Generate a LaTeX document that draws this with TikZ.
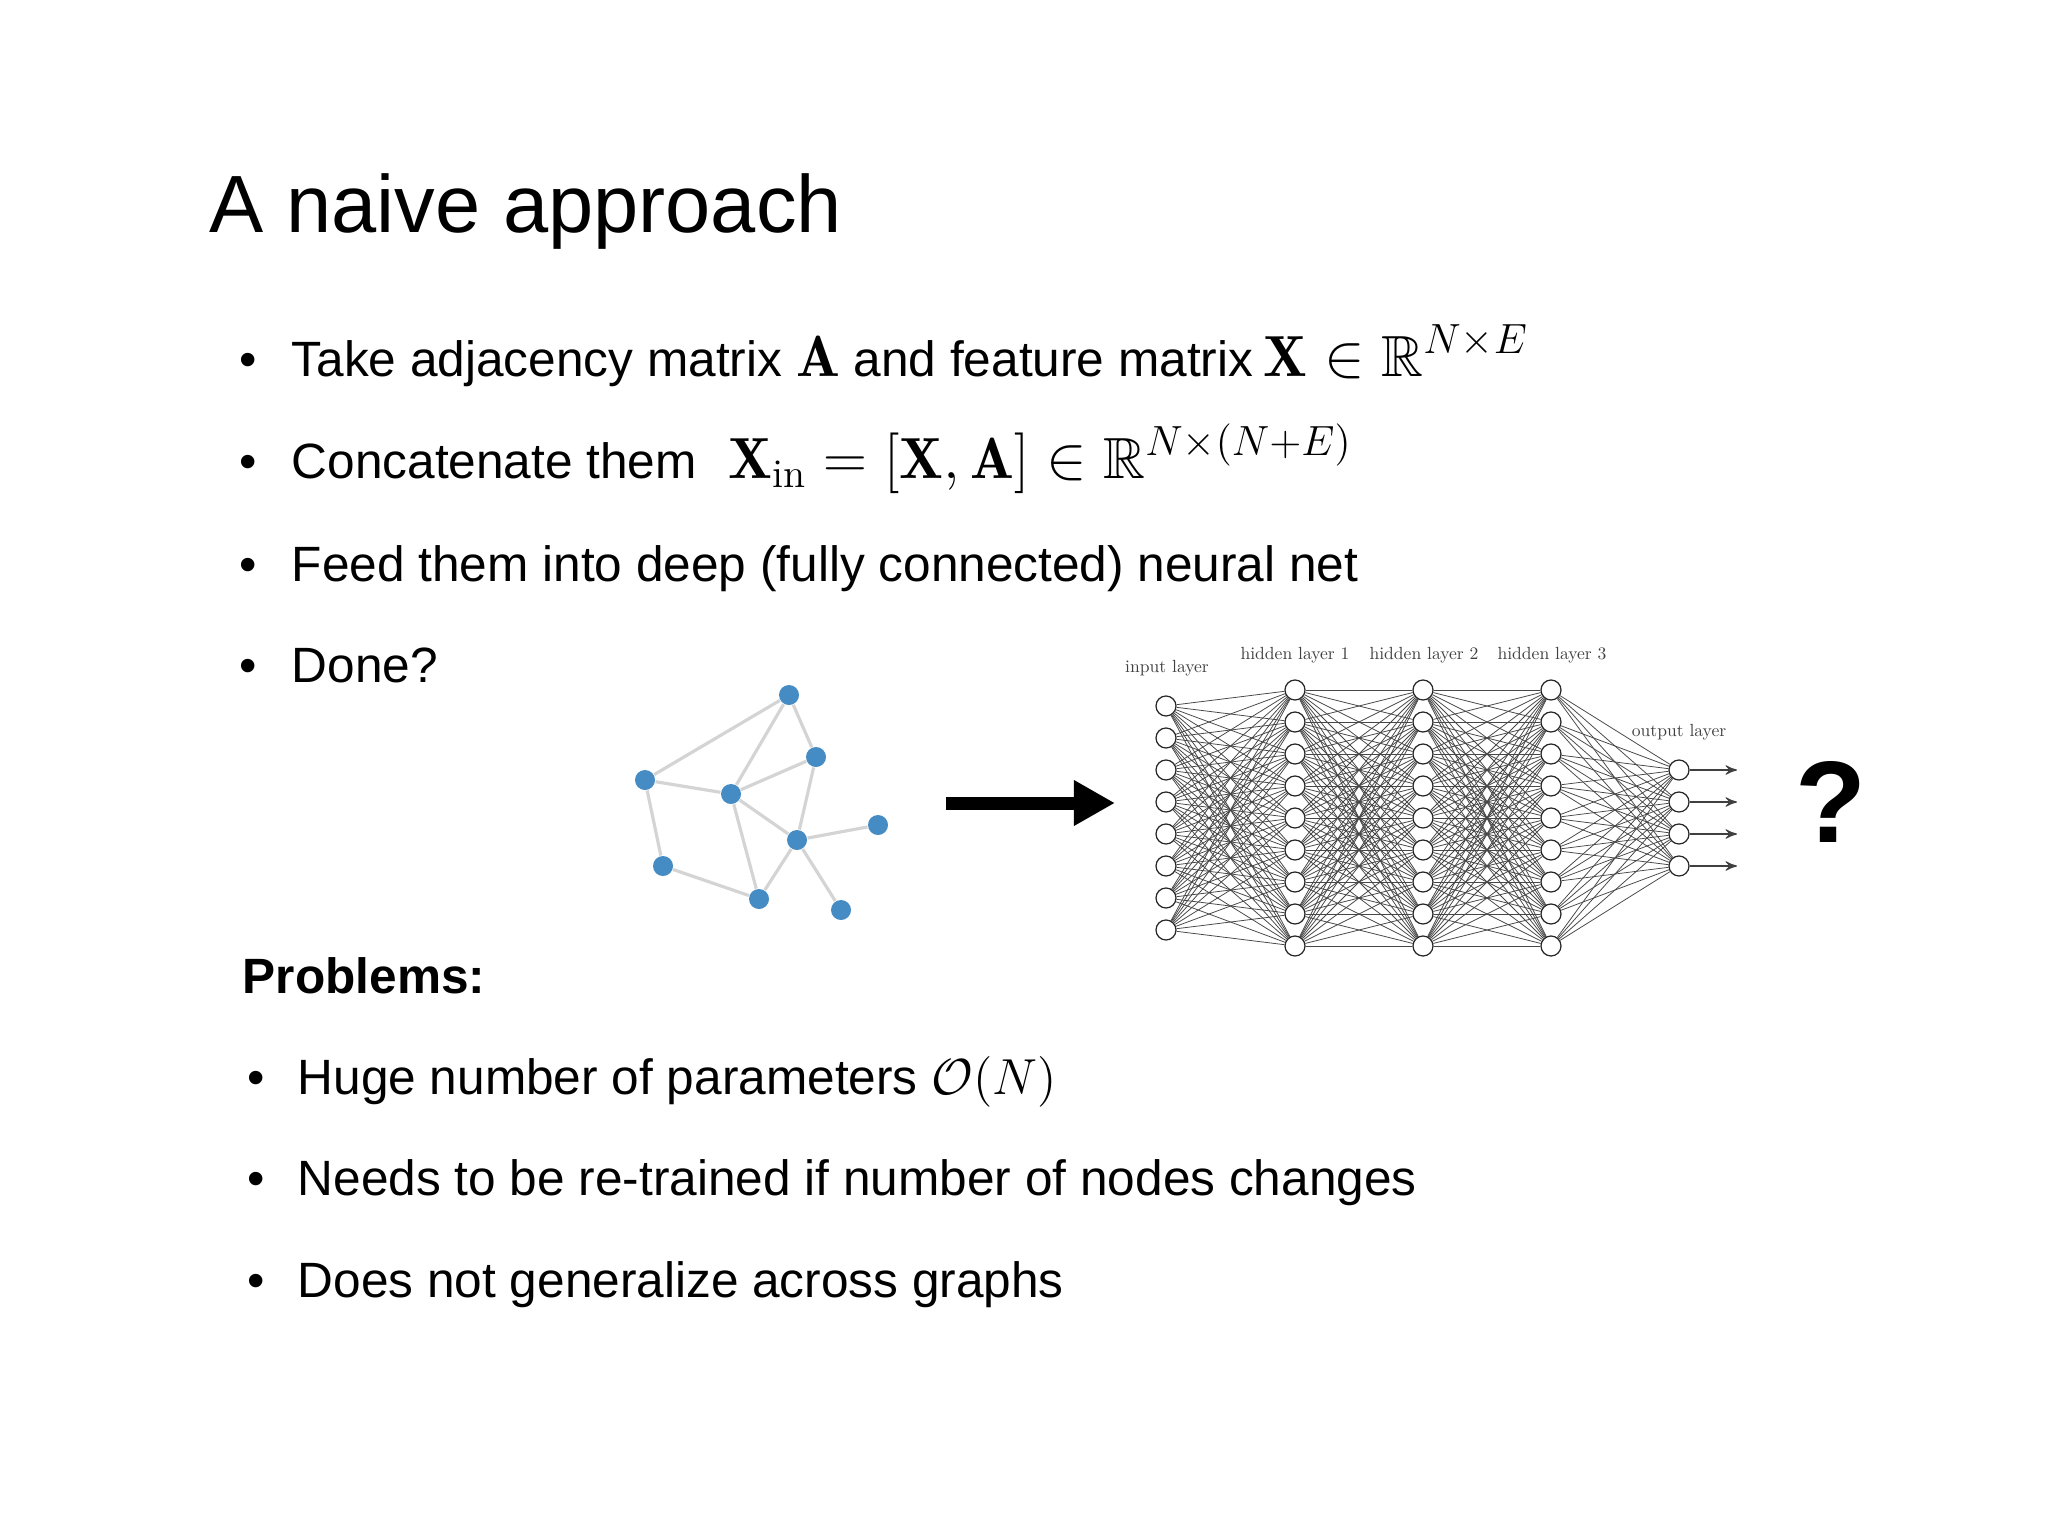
\documentclass[tikz,border=0pt]{standalone}
\usepackage{amsmath}
\usepackage{amssymb}
\usepackage{fontspec}
\newfontfamily\slidefont{Liberation Sans}
\newcommand{\slidemath}[1]{{\fontsize{16.5}{18}\selectfont$#1$}}
\usepackage{tikz}
\usetikzlibrary{shapes,arrows,arrows.meta,positioning}
\definecolor{gblue}{RGB}{70,140,196}
\definecolor{gline}{RGB}{212,212,212}
\tikzset{
  slide_txt/.style = {anchor=base west, inner sep=0pt,
    font=\slidefont\fontsize{14.1}{17}\selectfont},% texte des puces
  slide_ttl/.style = {anchor=base west, inner sep=0pt,
    font=\slidefont\fontsize{23.1}{27}\selectfont},% titre
  slide_dot/.style = {anchor=base, inner sep=0pt,
    font=\slidefont\fontsize{14.1}{17}\selectfont},% puce
  g_n/.style = {circle, fill=gblue, inner sep=0pt, minimum size=0.2cm},% noeud du graphe
  g_e/.style = {draw=gline, line width=0.9pt},% arete du graphe
  nn_n/.style = {circle, draw=black!85, fill=white, line width=0.35pt,
    inner sep=0pt, minimum size=0.2cm},% neurone
  nn_e/.style = {draw=black!72, line width=0.22pt},% connexion
  nn_lbl/.style = {anchor=base, inner sep=0pt, text=black!75,
    font=\fontsize{10}{12}\selectfont}% nom de couche
}

\begin{document}
\begin{tikzpicture}[x=0.01cm,y=-0.01cm,>=stealth']
        \fill[white] (0,0) rectangle (2048,1536);
        \useasboundingbox (0,0) rectangle (2048,1536);
        % titre et puces
        \node [slide_ttl] (title) at (209,232) {A naive approach};
        \node [slide_dot] (d1) at (248,376) {\textbullet};
        \node [slide_txt] (b1) at (291,376) {Take adjacency matrix \slidemath{\mathbf{A}} and feature matrix\slidemath{\,\mathbf{X} \in \mathbb{R}^{N\times E}}};
        \node [slide_dot] (d2) at (248,478) {\textbullet};
        \node [slide_txt] (b2) at (291,478) {Concatenate them\hspace{5pt} \slidemath{\mathbf{X}_{\mathrm{in}} = [\mathbf{X}, \mathbf{A}] \in \mathbb{R}^{N\times (N+E)}}};
        \node [slide_dot] (d3) at (248,581) {\textbullet};
        \node [slide_txt] (b3) at (291,581) {Feed them into deep (fully connected) neural net};
        \node [slide_dot] (d4) at (248,682) {\textbullet};
        \node [slide_txt] (b4) at (291,682) {Done?};
        \node [slide_txt] (prob) at (242,993) {\bfseries Problems:};
        \node [slide_dot] (d5) at (256,1094) {\textbullet};
        \node [slide_txt] (p1) at (297,1094) {Huge number of parameters $\mathcal{O}(N)$};
        \node [slide_dot] (d6) at (256,1195) {\textbullet};
        \node [slide_txt] (p2) at (297,1195) {Needs to be re-trained if number of nodes changes};
        \node [slide_dot] (d7) at (256,1297) {\textbullet};
        \node [slide_txt] (p3) at (297,1297) {Does not generalize across graphs};
        % graphe
        \node [g_n] (gT)  at (789,695) {};
        \node [g_n] (gRU) at (816,757) {};
        \node [g_n] (gL)  at (645,780) {};
        \node [g_n] (gC)  at (731,794) {};
        \node [g_n] (gRC) at (797,840) {};
        \node [g_n] (gFR) at (878,825) {};
        \node [g_n] (gLL) at (663,866) {};
        \node [g_n] (gB)  at (759,899) {};
        \node [g_n] (gBR) at (841,910) {};
        \foreach \a/\b in {gT/gL, gT/gC, gT/gRU, gL/gC, gC/gRU, gRU/gRC, gC/gRC,
            gC/gB, gL/gLL, gLL/gB, gB/gRC, gRC/gFR, gRC/gBR}
            \draw [g_e] (\a) -- (\b);
        % fleche
        \coordinate (ar_s) at (946,803);
        \coordinate (ar_e) at (1115,803);
        \draw [line width=3.7pt, -{Triangle[length=11.7pt,width=12.2pt]}] (ar_s) -- (ar_e);
        % reseau de neurones
        \foreach \i in {1,...,8}
            \node [nn_n] (I\i) at (1166,{674+32*\i}) {};
        \foreach \i in {1,...,9} {
            \node [nn_n] (Ha\i) at (1295,{658+32*\i}) {};
            \node [nn_n] (Hb\i) at (1423,{658+32*\i}) {};
            \node [nn_n] (Hc\i) at (1551,{658+32*\i}) {};
        }
        \foreach \i in {1,...,4}
            \node [nn_n] (O\i) at (1679,{738+32*\i}) {};
        \foreach \i in {1,...,8}
            \foreach \j in {1,...,9}
                \draw [nn_e] (I\i) -- (Ha\j);
        \foreach \i in {1,...,9}
            \foreach \j in {1,...,9} {
                \draw [nn_e] (Ha\i) -- (Hb\j);
                \draw [nn_e] (Hb\i) -- (Hc\j);
            }
        \foreach \i in {1,...,9}
            \foreach \j in {1,...,4}
                \draw [nn_e] (Hc\i) -- (O\j);
        \foreach \i in {1,...,4} {
            \coordinate (Oe\i) at (1737,{738+32*\i});
            \draw [->, line width=0.3pt, black!75] (O\i) -- (Oe\i);
        }
        \node [nn_lbl] (lin) at (1167,672) {\scalebox{0.5}{input layer}};
        \node [nn_lbl] (lh1) at (1295,659) {\scalebox{0.5}{hidden layer 1}};
        \node [nn_lbl] (lh2) at (1424,659) {\scalebox{0.5}{hidden layer 2}};
        \node [nn_lbl] (lh3) at (1552,659) {\scalebox{0.5}{hidden layer 3}};
        \node [nn_lbl] (lout) at (1679,736) {\scalebox{0.5}{output layer}};
        \node [anchor=base, inner sep=0pt, font=\slidefont\bfseries\fontsize{33}{40}\selectfont] (qm) at (1831,842) {?};
\end{tikzpicture}
\end{document}
